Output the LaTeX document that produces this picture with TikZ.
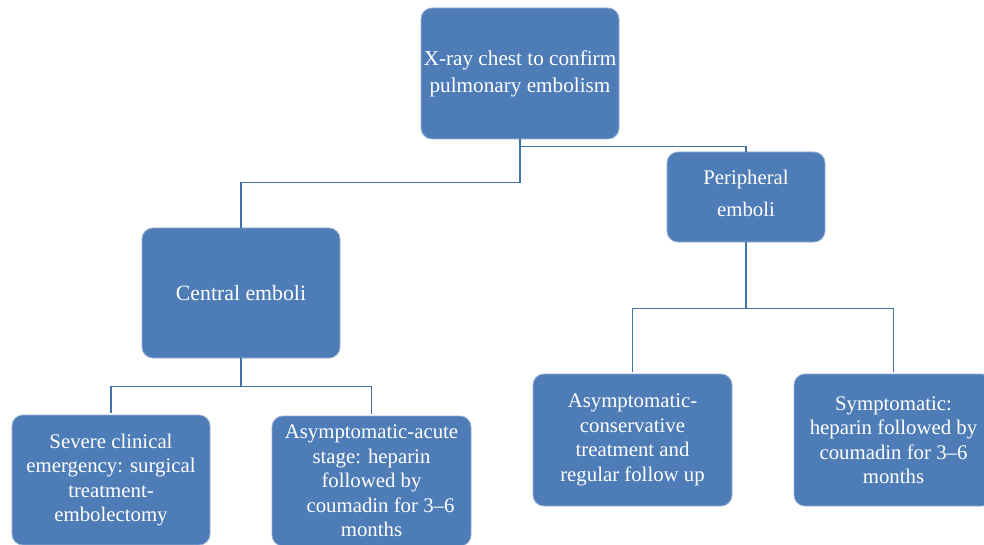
\documentclass[tikz,border=0pt]{standalone}
\usepackage{fontspec}
\setmainfont{Liberation Serif}
\definecolor{boxblue}{HTML}{4E7CB6}
\definecolor{linkblue}{HTML}{4270A8}
\tikzset{
  box/.style={rectangle, rounded corners=11pt, fill=boxblue, draw=boxblue!60!white,
    line width=0.8pt, text=white, align=center, inner sep=0pt,
    font=\fontsize{20.8}{24.5}\selectfont},
  link/.style={draw=linkblue, line width=1.4pt}
}
\begin{document}
\begin{tikzpicture}[x=1pt,y=-1pt]
\useasboundingbox (0,0) rectangle (984,545);
\clip (0,0) rectangle (984,545);
\fill[white] (0,0) rectangle (984,545);

\node[box, minimum width=198pt, minimum height=131pt, font=\fontsize{21.2}{27}\selectfont] (top) at (520,73.5)
  {X-ray chest to confirm\\pulmonary embolism};
\node[box, minimum width=158pt, minimum height=90pt] (periph) at (746,197)
  {Peripheral\\[8pt]emboli\\[-17pt]\mbox{}};
\node[box, minimum width=198pt, minimum height=130pt, font=\fontsize{21.8}{25}\selectfont] (central) at (241,293)
  {Central emboli};
\node[box, minimum width=198pt, minimum height=130pt] (severe) at (111,480)
  {Severe clinical\\emergency: surgical\\treatment-\\embolectomy};
\node[box, minimum width=199pt, minimum height=130pt] (acute) at (371.5,481)
  {Asymptomatic-acute\\stage: heparin\\followed by\\\hspace*{18pt}coumadin for 3--6\\months};
\node[box, minimum width=199pt, minimum height=132pt] (cons) at (632.5,440)
  {Asymptomatic-\\conservative\\treatment and\\regular follow up};
\node[box, minimum width=199pt, minimum height=132pt] (sympt) at (893.5,440)
  {Symptomatic:\\heparin followed by\\coumadin for 3--6\\months};

% connectors
\draw[link] (top.south) -- ++(0,43) coordinate (tj) -| (central.north);
\draw[link] ([yshift=-7pt]top.south) -| (periph.north);

\draw[link] (central.south) -- ++(0,28) coordinate (cj);
\draw[link, shorten >=2pt] (cj) -| (severe.north);
\draw[link, shorten >=2pt] (cj) -| (acute.north);

\draw[link] (periph.south) -- ++(0,66) coordinate (pj);
\draw[link, shorten >=2pt] (pj) -| (cons.north);
\draw[link, shorten >=2pt] (pj) -| (sympt.north);
\end{tikzpicture}
\end{document}
